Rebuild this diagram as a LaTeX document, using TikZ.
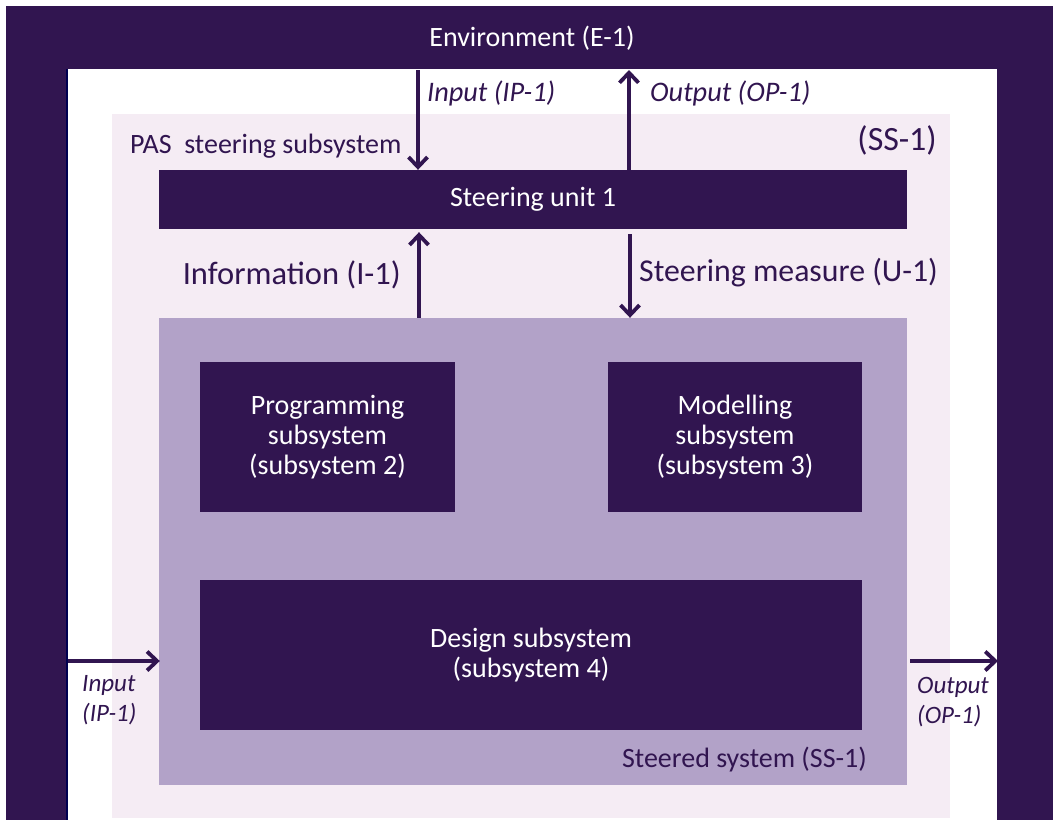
\documentclass[tikz,border=0pt]{standalone}
\usepackage{fontspec}
\setmainfont{Carlito}
\usetikzlibrary{arrows.meta}
\definecolor{dk}{HTML}{311550}
\definecolor{lav}{HTML}{B2A2C8}
\definecolor{pk}{HTML}{F5ECF4}
\definecolor{nv}{HTML}{000050}
\begin{document}
\begin{tikzpicture}[x=1pt,y=-1pt,
  box/.style={fill=dk, draw=none, inner sep=0pt, text=white, align=center, font=\fontsize{28}{30}\selectfont},
  arr/.style={dk, line width=3.8pt, -{Straight Barb[length=10pt,width=19pt,line width=3.8pt]}},
  lab/.style={text=dk, inner sep=0pt, font=\fontsize{28}{30}\selectfont},
  biglab/.style={text=dk, inner sep=0pt, font=\fontsize{32.5}{34}\selectfont},
  ilab/.style={text=dk, inner sep=0pt, align=left, font=\fontsize{28.3}{30}\selectfont\itshape},
  slab/.style={text=dk, inner sep=0pt, align=left, font=\fontsize{25}{30}\selectfont\itshape}]
\useasboundingbox (0,0) rectangle (1053,820);
\fill[white] (0,0) rectangle (1053,820);
% environment frame
\fill[dk] (6,6) rectangle (1053,820);
\fill[white] (68,69) rectangle (997,820);
\draw[nv, line width=1.5pt] (67,69) -- (67,820);
\node[text=white, inner sep=0pt, font=\fontsize{28}{30}\selectfont] (env) at (532,38) {Environment (E-1)};
% steering subsystem
\node[fill=pk, draw=none, inner sep=0pt, minimum width=838pt, minimum height=704pt] (pas) at (531,466) {};
\node[lab, anchor=west] (pasl) at (130,146) {PAS\ \ steering subsystem};
\node[text=dk, inner sep=0pt, font=\fontsize{34}{36}\selectfont, anchor=east] (ssl) at (937,140) {(SS-1)};
\node[box, minimum width=748pt, minimum height=59pt] (su) at (533,199.5) {Steering unit 1};
% steered system
\node[fill=lav, draw=none, inner sep=0pt, minimum width=748pt, minimum height=467pt] (ss) at (533,551.5) {};
\node[box, minimum width=255pt, minimum height=150pt] (prog) at (327.5,437) {Programming\\subsystem\\(subsystem 2)};
\node[box, minimum width=254pt, minimum height=150pt] (mod) at (735,437) {Modelling\\subsystem\\(subsystem 3)};
\node[box, minimum width=662pt, minimum height=150pt] (des) at (531,655) {Design subsystem\\(subsystem 4)};
\node[lab, anchor=east] (sstl) at (867,760) {Steered system (SS-1)};
% top arrows
\coordinate (inTop) at (418,70);
\coordinate (outTop) at (629,70);
\draw[arr] (inTop) -- (inTop |- su.north);
\draw[arr] (su.north -| outTop) -- (outTop);
\node[ilab, anchor=west] (inl) at (427,93) {Input (IP-1)};
\node[ilab, anchor=west] (outl) at (650,93) {Output (OP-1)};
% middle arrows
\coordinate (infX) at (419,0);
\coordinate (stX) at (630,0);
\draw[arr] (ss.north -| infX) -- ([yshift=-3pt]su.south -| infX);
\draw[arr] ([yshift=-5pt]su.south -| stX) -- (ss.north -| stX);
\node[biglab, anchor=east] (infl) at (401,275) {Information (I-1)};
\node[text=dk, inner sep=0pt, font=\fontsize{31.8}{34}\selectfont, anchor=west] (stl) at (639,273) {Steering measure (U-1)};
% side arrows
\coordinate (lin) at (68,661);
\coordinate (rout) at (998,661);
\draw[arr] (lin) -- ([xshift=1pt]lin -| ss.west);
\draw[arr] ([xshift=3pt]rout -| ss.east) -- (rout);
\node[slab, anchor=north west] (linl) at (82,675) {Input\\(IP-1)};
\node[slab, anchor=north west] (routl) at (917,677) {Output\\(OP-1)};
\end{tikzpicture}
\end{document}
